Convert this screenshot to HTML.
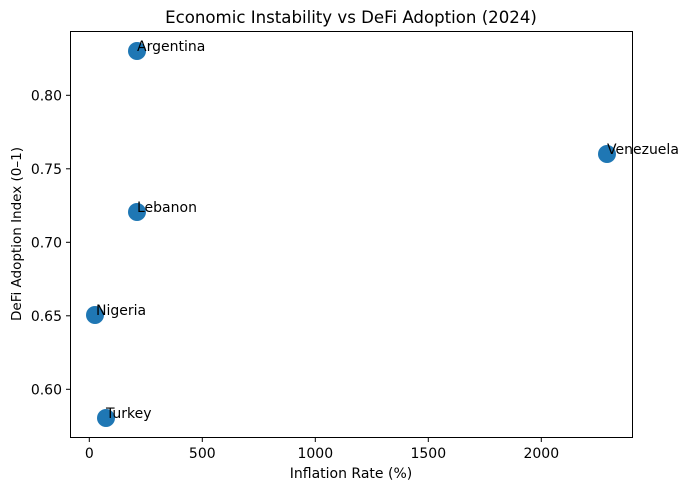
<!DOCTYPE html>
<html><head><style>body{margin:0;background:#fff}</style></head><body>
<svg width="689" height="490" xmlns="http://www.w3.org/2000/svg" font-family="DejaVu Sans, sans-serif">
<rect width="689" height="490" fill="#fff"/>
<text x="351" y="23" font-size="16.6" text-anchor="middle">Economic Instability vs DeFi Adoption (2024)</text>
<g fill="#1f77b4">
<circle cx="137" cy="51" r="9"/>
<circle cx="607" cy="154" r="9"/>
<circle cx="137" cy="212" r="9"/>
<circle cx="95" cy="315" r="9"/>
<circle cx="106" cy="418" r="9"/>
</g>
<g font-size="14">
<text x="137" y="51">Argentina</text>
<text x="607" y="154">Venezuela</text>
<text x="137" y="212">Lebanon</text>
<text x="96" y="315">Nigeria</text>
<text x="106" y="418">Turkey</text>
</g>
<rect x="70.5" y="31.5" width="562" height="406" fill="none" stroke="#000" stroke-width="1"/>
<g stroke="#000">
<line x1="89.3" y1="437.5" x2="89.3" y2="442"/>
<line x1="202.3" y1="437.5" x2="202.3" y2="442"/>
<line x1="315.3" y1="437.5" x2="315.3" y2="442"/>
<line x1="428.3" y1="437.5" x2="428.3" y2="442"/>
<line x1="541.3" y1="437.5" x2="541.3" y2="442"/>
<line x1="66" y1="389.3" x2="70.5" y2="389.3"/>
<line x1="66" y1="315.8" x2="70.5" y2="315.8"/>
<line x1="66" y1="242.3" x2="70.5" y2="242.3"/>
<line x1="66" y1="168.8" x2="70.5" y2="168.8"/>
<line x1="66" y1="95.3" x2="70.5" y2="95.3"/>
</g>
<g font-size="14" text-anchor="middle">
<text x="89.3" y="458">0</text>
<text x="202.3" y="458">500</text>
<text x="315.3" y="458">1000</text>
<text x="428.3" y="458">1500</text>
<text x="541.3" y="458">2000</text>
</g>
<g font-size="14" text-anchor="end">
<text x="62" y="394.3">0.60</text>
<text x="62" y="320.8">0.65</text>
<text x="62" y="247.3">0.70</text>
<text x="62" y="173.8">0.75</text>
<text x="62" y="100.3">0.80</text>
</g>
<text x="351" y="478" font-size="14" text-anchor="middle">Inflation Rate (%)</text>
<text transform="translate(21,234) rotate(-90)" font-size="13.5" text-anchor="middle">DeFi Adoption Index (0–1)</text>
</svg>
</body></html>
